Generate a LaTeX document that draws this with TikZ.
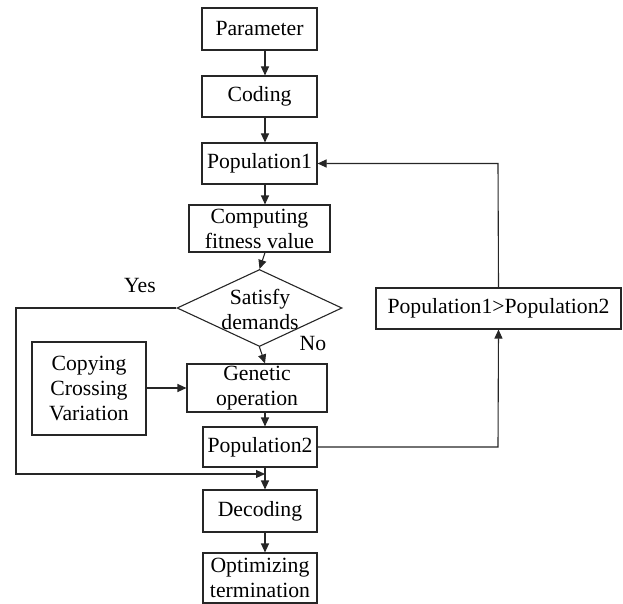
\documentclass[tikz,border=0pt]{standalone}
\usepackage{fontspec}
\setmainfont{Liberation Serif}
\usetikzlibrary{arrows.meta,shapes.geometric}
\begin{document}
\begin{tikzpicture}[x=1pt,y=-1pt,
  box/.style={draw=black!85, line width=1.1pt, rectangle, inner sep=0pt, align=center,
    font=\fontsize{21.7}{25}\selectfont},
  conn/.style={draw=black!85, line width=1.1pt, -{Triangle[length=9pt,width=8pt]}},
  lbl/.style={inner sep=0pt, font=\fontsize{21.7}{25}\selectfont}]
\useasboundingbox (0,0) rectangle (623,604);
\node[box, minimum width=115, minimum height=42] (par) at (259.5,29) {Parameter};
\node[box, minimum width=115, minimum height=41] (cod) at (259.5,96.5) {Coding};
\node[box, minimum width=115, minimum height=41] (pop1) at (259.5,163.5) {Population1};
\node[box, minimum width=141, minimum height=47] (fit) at (259.5,228.5) {Computing\\fitness value};
\node[draw=black!85, line width=1.1pt, diamond, minimum width=165, minimum height=77, inner sep=0pt] (sat) at (259.5,308) {};
\node[lbl, align=center] (sattext) at (260,309) {Satisfy\\demands};
\node[box, minimum width=140, minimum height=48] (gen) at (257,388) {Genetic\\operation};
\node[box, minimum width=114, minimum height=93] (copy) at (89,388.5) {Copying\\Crossing\\Variation};
\node[box, minimum width=114, minimum height=40] (pop2) at (260,447) {Population2};
\node[box, minimum width=114, minimum height=42] (dec) at (260,511) {Decoding};
\node[box, minimum width=114, minimum height=50] (opt) at (260,578) {Optimizing\\termination};
\node[box, minimum width=245, minimum height=41] (cmp) at (498.5,308.5) {Population1>Population2};
\node[lbl] (yes) at (140,285) {Yes};
\node[lbl] (no) at (313,343) {No};
\coordinate (col) at (265,0);
\coordinate (rcol) at (498,0);
\coordinate (yl) at (16,0);
\coordinate (yend) at (265,474);
\draw[conn] (par.south -| col) -- (cod.north -| col);
\draw[conn] (cod.south -| col) -- (pop1.north -| col);
\draw[conn] (pop1.south -| col) -- (fit.north -| col);
\draw[conn] (fit.south -| col) -- (sat.north);
\draw[conn] (sat.south) -- (gen.north -| col);
\draw[conn] (copy.east |- gen.west) -- (gen.west);
\draw[conn] (gen.south -| col) -- (pop2.north -| col);
\draw[conn] (pop2.south -| col) -- (dec.north -| col);
\draw[conn] (dec.south -| col) -- (opt.north -| col);
\draw[conn] (sat.west) -- (sat.west -| yl) -- (yl |- yend) -- (yend);
\draw[conn] (pop2.east) -- (pop2.east -| rcol) -- (cmp.south);
\draw[conn] (cmp.north) -- (rcol |- pop1.east) -- (pop1.east);
\end{tikzpicture}
\end{document}
